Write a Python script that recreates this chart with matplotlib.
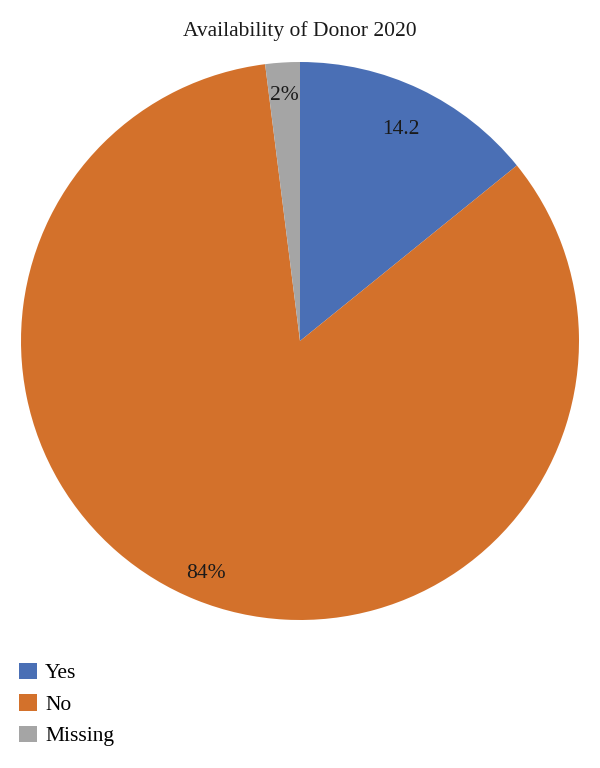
import numpy as np
import matplotlib.pyplot as plt
from matplotlib.patches import Patch

plt.rcParams['font.family'] = ['Liberation Serif', 'DejaVu Serif']

# Data
categories = ['Yes', 'No', 'Missing']
values = [14.2, 84, 2]
value_labels = ['14.2', '84%', '2%']
colors = ['#4a6fb5', '#d3712b', '#a5a5a5']
label_radius = [0.84, 0.90, 0.88]

fig = plt.figure(figsize=(6, 7.68), dpi=100)
# pie axes: center (300, 341) px, radius 279 px
ax = fig.add_axes([21 / 600, (427 - 279) / 768, 558 / 600, 558 / 768])

wedges, _ = ax.pie(values, colors=colors, startangle=90, counterclock=False,
                   radius=1, wedgeprops=dict(linewidth=0))
ax.set_xlim(-1, 1)
ax.set_ylim(-1, 1)
ax.set_aspect('equal')

# value labels at each wedge's middle angle
for w, txt, r in zip(wedges, value_labels, label_radius):
    theta = np.deg2rad((w.theta1 + w.theta2) / 2)
    ax.text(r * np.cos(theta), r * np.sin(theta), txt, ha='center', va='center',
            fontsize=15.5, color='#1a1a1a')

fig.text(0.5, 1 - 31 / 768, 'Availability of Donor 2020', ha='center', va='center',
         fontsize=15.5, color='#1a1a1a')

handles = [Patch(facecolor=c, edgecolor='none', label=l) for c, l in zip(colors, categories)]
fig.legend(handles=handles, loc='upper left', bbox_to_anchor=(0.018, 1 - 654 / 768),
           frameon=False, fontsize=15.5, handlelength=0.8, handleheight=0.8,
           handletextpad=0.4, labelspacing=0.5, borderaxespad=0)

fig.savefig('out.png', dpi=100)
